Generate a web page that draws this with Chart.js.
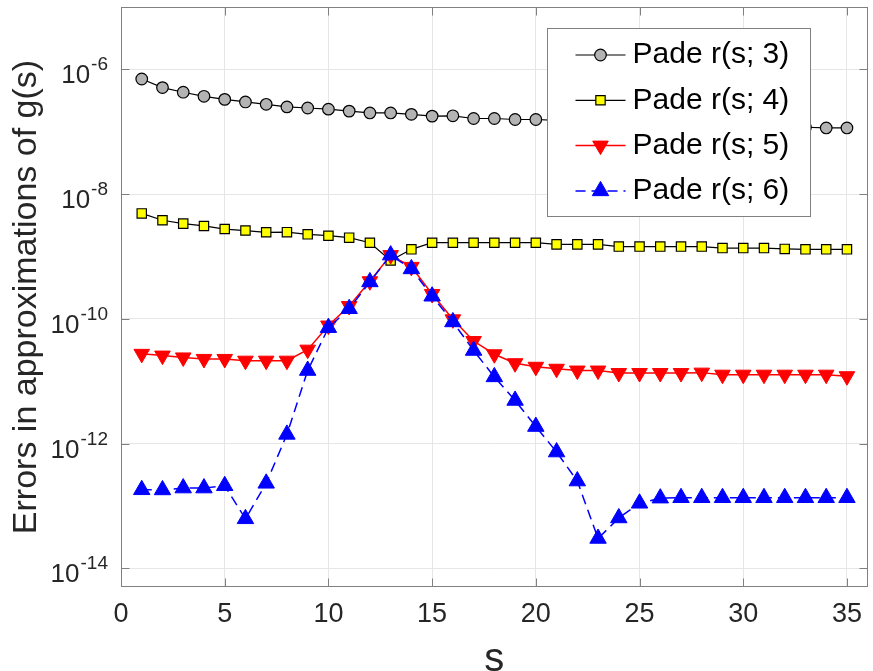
<!DOCTYPE html>
<html>
<head>
<meta charset="utf-8">
<script src="https://cdn.jsdelivr.net/npm/chart.js@4/dist/chart.umd.min.js"></script>
<style>
  body { margin: 0; background: #fff; }
  #errChart { display: block; }
</style>
</head>
<body>
<canvas id="errChart" width="873" height="671"></canvas>
<script>
// s = 1..35
const sValues = [1, 2, 3, 4, 5, 6, 7, 8, 9, 10, 11, 12, 13, 14, 15, 16, 17, 18,
  19, 20, 21, 22, 23, 24, 25, 26, 27, 28, 29, 30, 31, 32, 33, 34, 35];

// errors (log scale)
const errR3 = [7.0e-7, 5.1e-7, 4.3e-7, 3.7e-7, 3.3e-7, 3.0e-7, 2.75e-7, 2.5e-7, 2.4e-7, 2.3e-7,
  2.14e-7, 2.0e-7, 2.0e-7, 1.9e-7, 1.78e-7, 1.8e-7, 1.63e-7, 1.63e-7, 1.57e-7, 1.57e-7,
  1.52e-7, 1.48e-7, 1.45e-7, 1.42e-7, 1.38e-7, 1.35e-7, 1.32e-7, 1.29e-7, 1.27e-7, 1.24e-7,
  1.22e-7, 1.2e-7, 1.18e-7, 1.15e-7, 1.15e-7];
const errR4 = [4.9e-9, 3.8e-9, 3.36e-9, 3.08e-9, 2.75e-9, 2.6e-9, 2.44e-9, 2.45e-9, 2.26e-9, 2.15e-9,
  2.0e-9, 1.66e-9, 8.6e-10, 1.3e-9, 1.66e-9, 1.66e-9, 1.66e-9, 1.66e-9, 1.66e-9, 1.66e-9,
  1.56e-9, 1.56e-9, 1.56e-9, 1.44e-9, 1.44e-9, 1.44e-9, 1.44e-9, 1.44e-9, 1.36e-9, 1.36e-9,
  1.36e-9, 1.32e-9, 1.3e-9, 1.3e-9, 1.3e-9];
const errR5 = [2.74e-11, 2.57e-11, 2.4e-11, 2.27e-11, 2.27e-11, 2.13e-11, 2.13e-11, 2.13e-11, 3.2e-11, 7.8e-11,
  1.6e-10, 4.0e-10, 1.05e-9, 6.8e-10, 2.5e-10, 9.8e-11, 4.4e-11, 2.7e-11, 1.94e-11, 1.7e-11,
  1.58e-11, 1.48e-11, 1.48e-11, 1.35e-11, 1.35e-11, 1.35e-11, 1.35e-11, 1.37e-11, 1.27e-11, 1.27e-11,
  1.27e-11, 1.27e-11, 1.27e-11, 1.27e-11, 1.2e-11];
const errR6 = [1.81e-13, 1.8e-13, 1.93e-13, 1.93e-13, 2.1e-13, 6.2e-14, 2.3e-13, 1.4e-12, 1.48e-11, 7.2e-11,
  1.45e-10, 3.9e-10, 1.05e-9, 6.3e-10, 2.3e-10, 8.9e-11, 3.1e-11, 1.17e-11, 4.9e-12, 1.87e-12,
  7.3e-13, 2.5e-13, 3.0e-14, 6.4e-14, 1.1e-13, 1.33e-13, 1.35e-13, 1.35e-13, 1.35e-13, 1.35e-13,
  1.35e-13, 1.35e-13, 1.35e-13, 1.35e-13, 1.35e-13];

const seriesNames = ['Pade r(s; 3)', 'Pade r(s; 4)', 'Pade r(s; 5)', 'Pade r(s; 6)'];
const xTicks = [0, 5, 10, 15, 20, 25, 30, 35];
const yTicks = [1e-14, 1e-12, 1e-10, 1e-8, 1e-6];

const FONT = '"Liberation Sans", Arial, Helvetica, sans-serif';
const TEXT = '#262626';
const AXIS = '#808080';

const pts = arr => arr.map((v, i) => ({ x: sValues[i], y: v }));

// frame with inward ticks on all four sides (matlab "box on")
const framePlugin = {
  id: 'frame',
  beforeDatasetsDraw(chart) {
    const { ctx, chartArea: a, scales } = chart;
    const L = Math.round(a.left) + 0.5, R = Math.round(a.right) - 0.5;
    const T = Math.round(a.top) + 0.5, B = Math.round(a.bottom) - 0.5;
    ctx.save();
    ctx.strokeStyle = AXIS;
    ctx.lineWidth = 1;
    ctx.strokeRect(L, T, R - L, B - T);
    ctx.beginPath();
    scales.x.ticks.forEach(t => {
      const x = Math.round(scales.x.getPixelForValue(t.value)) + 0.5;
      ctx.moveTo(x, B); ctx.lineTo(x, B - 8);
      ctx.moveTo(x, T); ctx.lineTo(x, T + 8);
    });
    scales.y.ticks.forEach(t => {
      const y = Math.round(scales.y.getPixelForValue(t.value)) + 0.5;
      ctx.moveTo(L, y); ctx.lineTo(L + 8, y);
      ctx.moveTo(R, y); ctx.lineTo(R - 8, y);
    });
    ctx.stroke();
    ctx.restore();
  },
  afterDraw(chart) {
    // y tick labels as 10^n with superscript
    const { ctx, scales } = chart;
    const rightEdge = scales.y.right - 13;
    ctx.save();
    ctx.fillStyle = TEXT;
    ctx.textBaseline = 'alphabetic';
    scales.y.ticks.forEach(t => {
      const y = scales.y.getPixelForValue(t.value);
      const exp = String(Math.round(Math.log10(t.value)));
      ctx.font = '19px ' + FONT;
      const ew = ctx.measureText(exp).width;
      ctx.textAlign = 'left';
      ctx.fillText(exp, rightEdge - ew, y + 1);
      ctx.font = '26px ' + FONT;
      ctx.textAlign = 'right';
      ctx.fillText('10', rightEdge - ew - 1, y + 14);
    });
    ctx.restore();
  }
};

// legend box inside the plot, top right
const legendPlugin = {
  id: 'boxLegend',
  afterDatasetsDraw(chart) {
    const { ctx, chartArea: a } = chart;
    const x0 = Math.round(a.right) - 320.5, y0 = Math.round(a.top) + 21.5;
    const w = 263, h = 188;
    ctx.save();
    ctx.fillStyle = '#fff';
    ctx.fillRect(x0, y0, w, h);
    ctx.strokeStyle = AXIS;
    ctx.lineWidth = 1;
    ctx.strokeRect(x0, y0, w, h);
    chart.data.datasets.forEach((ds, i) => {
      const yc = y0 + 26.5 + i * 45.3;
      ctx.save();
      ctx.strokeStyle = ds.borderColor;
      ctx.lineWidth = ds.borderWidth;
      ctx.setLineDash(ds.borderDash || []);
      ctx.beginPath();
      ctx.moveTo(x0 + 28, yc);
      ctx.lineTo(x0 + 78, yc);
      ctx.stroke();
      ctx.setLineDash([]);
      ctx.fillStyle = ds.pointBackgroundColor;
      ctx.strokeStyle = ds.pointBorderColor;
      ctx.lineWidth = ds.pointBorderWidth;
      Chart.helpers.drawPoint(ctx, {
        pointStyle: ds.pointStyle,
        rotation: ds.pointRotation || 0,
        radius: ds.pointRadius,
        borderWidth: ds.pointBorderWidth
      }, x0 + 53, yc);
      ctx.restore();
      ctx.fillStyle = '#000';
      ctx.font = '30px ' + FONT;
      ctx.textAlign = 'left';
      ctx.textBaseline = 'middle';
      ctx.fillText(ds.label, x0 + 85, yc);
    });
    ctx.restore();
  }
};

const ctx = document.getElementById('errChart');

const errChart = new Chart(ctx, {
  type: 'line',
  data: {
    datasets: [
      {
        label: seriesNames[0], data: pts(errR3), order: 3,
        borderColor: '#000000', borderWidth: 1.2,
        pointStyle: 'circle', pointRadius: 5.8,
        pointBackgroundColor: '#b3b3b3', pointBorderColor: '#000000', pointBorderWidth: 1.2
      },
      {
        label: seriesNames[1], data: pts(errR4), order: 2,
        borderColor: '#000000', borderWidth: 1.2,
        pointStyle: 'rect', pointRadius: 6.6,
        pointBackgroundColor: '#ffff00', pointBorderColor: '#000000', pointBorderWidth: 1.2
      },
      {
        label: seriesNames[2], data: pts(errR5), order: 1,
        borderColor: '#ff0000', borderWidth: 1.5,
        pointStyle: 'triangle', pointRotation: 180, pointRadius: 9,
        pointBackgroundColor: '#ff0000', pointBorderColor: '#ff0000', pointBorderWidth: 1
      },
      {
        label: seriesNames[3], data: pts(errR6), order: 0,
        borderColor: '#0000ff', borderWidth: 1.5, borderDash: [10, 6],
        pointStyle: 'triangle', pointRadius: 9.5,
        pointBackgroundColor: '#0000ff', pointBorderColor: '#0000ff', pointBorderWidth: 1
      }
    ]
  },
  options: {
    responsive: false,
    devicePixelRatio: 1,
    animation: false,
    layout: { autoPadding: false, padding: { top: 7, right: 1, left: 0, bottom: 0 } },
    plugins: {
      legend: { display: false },
      tooltip: { enabled: false }
    },
    elements: { line: { tension: 0 } },
    scales: {
      x: {
        type: 'linear',
        min: 0,
        max: 36,
        afterBuildTicks: axis => { axis.ticks = xTicks.map(v => ({ value: v })); },
        afterFit: axis => { axis.height = 84; },
        grid: { color: '#e6e6e6', drawTicks: false },
        border: { display: false },
        ticks: {
          padding: 11,
          color: TEXT,
          font: { family: FONT, size: 27 },
          callback: v => String(v)
        },
        title: {
          display: true,
          text: 's',
          color: TEXT,
          font: { family: FONT, size: 40, lineHeight: 1 },
          padding: { top: 0, bottom: -9 }
        }
      },
      y: {
        type: 'logarithmic',
        min: 5e-15,
        max: 1e-5,
        afterBuildTicks: axis => { axis.ticks = yTicks.map(v => ({ value: v })); },
        afterFit: axis => { axis.width = 121; },
        grid: { color: '#e6e6e6', drawTicks: false },
        border: { display: false },
        ticks: { display: false },
        title: {
          display: true,
          text: 'Errors in approximations of g(s)',
          color: TEXT,
          font: { family: FONT, size: 34 },
          padding: { top: 6, bottom: 0 }
        }
      }
    }
  },
  plugins: [framePlugin, legendPlugin]
});
</script>
</body>
</html>
